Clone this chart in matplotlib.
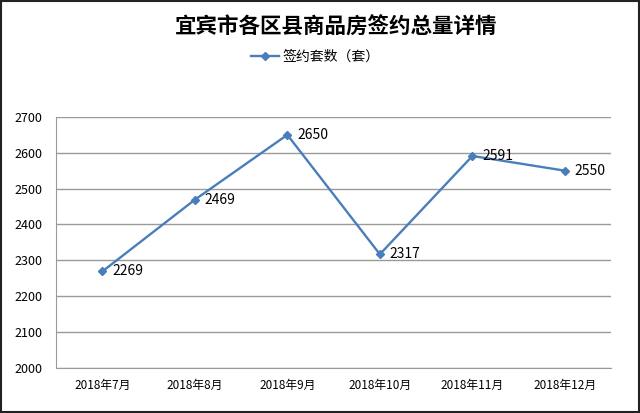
import matplotlib
matplotlib.use("Agg")
import matplotlib.pyplot as plt
from matplotlib.patches import Rectangle

plt.rcParams['font.family'] = ['Noto Sans CJK SC', 'DejaVu Sans']

categories = ["2018年7月", "2018年8月", "2018年9月", "2018年10月", "2018年11月", "2018年12月"]
values = [2269, 2469, 2650, 2317, 2591, 2550]
yticks = [2000, 2100, 2200, 2300, 2400, 2500, 2600, 2700]
series_name = "签约套数（套）"
title = "宜宾市各区县商品房签约总量详情"

color = "#4A7EBB"
grid_color = "#9A9A9A"

fig = plt.figure(figsize=(6.4, 4.13), dpi=100)
ax = fig.add_axes([0.0875, 0.109, 0.8675, 0.608])

x = list(range(len(categories)))
ax.plot(x, values, color=color, linewidth=1.7, marker="D", markersize=4.5,
        markerfacecolor=color, markeredgecolor=color, label=series_name)
for xi, v in zip(x, values):
    ax.annotate(str(v), (xi, v), xytext=(7, 0), textcoords="offset points",
                ha="left", va="center", fontsize=10, color="#000000")

ax.set_xlim(-0.5, len(categories) - 0.5)
ax.set_ylim(yticks[0], yticks[-1])
ax.set_yticks(yticks)
ax.set_yticklabels([str(t) for t in yticks], fontsize=9)
ax.set_xticks(x)
ax.set_xticklabels(categories, fontsize=8.5)
ax.tick_params(axis="both", length=0, pad=8)
ax.tick_params(axis="y", pad=10)
ax.yaxis.grid(True, color=grid_color, linewidth=1)
ax.set_axisbelow(True)
for s in ["top", "right"]:
    ax.spines[s].set_visible(False)
ax.spines["left"].set_color(grid_color)
ax.spines["bottom"].set_color(grid_color)

fig.text(0.525, 0.935, title, ha="center", va="center", fontsize=15.5, fontweight="bold")
leg = fig.legend(loc="center", bbox_to_anchor=(0.493, 0.862), frameon=False, fontsize=10,
                 handlelength=2.0, handletextpad=0.3)

fig.patches.append(Rectangle((0.001, 0.002), 0.997, 0.995, transform=fig.transFigure,
                             fill=False, edgecolor="#222222", linewidth=1.5))

fig.savefig("out.png", dpi=100)
